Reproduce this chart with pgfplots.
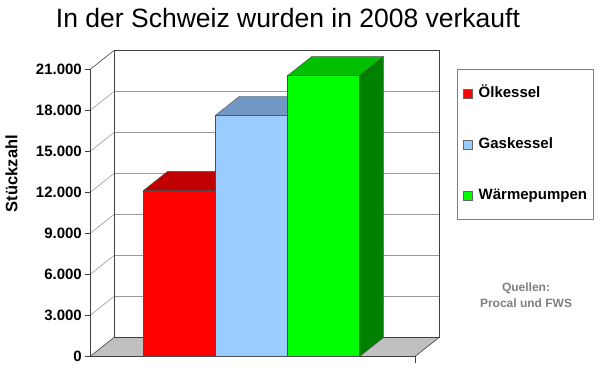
\documentclass[border=0pt]{standalone}
\usepackage{fontspec}
\setmainfont{Liberation Sans}
\usepackage{pgfplots}
\pgfplotsset{compat=1.18}
\definecolor{redF}{HTML}{FF0000}
\definecolor{redT}{HTML}{C00000}
\definecolor{blueF}{HTML}{99CCFF}
\definecolor{blueT}{HTML}{7098C2}
\definecolor{greenF}{HTML}{00FF00}
\definecolor{greenT}{HTML}{00C000}
\definecolor{greenS}{HTML}{008000}
\definecolor{floorG}{HTML}{C0C0C0}
\definecolor{gridG}{HTML}{9A9A9A}
\definecolor{edgeG}{HTML}{404040}
\definecolor{srcG}{HTML}{808080}
\begin{document}
\begin{tikzpicture}
\useasboundingbox (0,0) rectangle (600pt,372pt);
\fill[white] (0,0) rectangle (600pt,372pt);
\begin{axis}[
  name=c, at={(0,0)}, anchor=south west,
  scale only axis, width=600pt, height=372pt,
  xmin=0, xmax=600, ymin=-1134.15, ymax=26085.37,
  clip=false,
  axis line style={draw=none},
  xtick=\empty,
  ytick={0,3000,6000,9000,12000,15000,18000,21000},
  ytick pos=left,
  major tick length=0pt,
  tick style={draw=none},
  scaled y ticks=false,
  /pgf/number format/.cd, fixed, 1000 sep={.}, assume math mode=true,
  /pgfplots/.cd,
  yticklabel style={anchor=east, inner sep=0pt, xshift=82pt, font=\bfseries\fontsize{15}{18}\selectfont},
  legend image code/.code={\draw[#1] (0pt,-4.5pt) rectangle (9pt,4.5pt);},
  legend cell align=left,
  legend style={at={(0.76167,0.81452)}, anchor=north west, draw=srcG, line width=0.6pt,
    inner xsep=6pt, inner ysep=17pt, row sep=37pt,
    font=\bfseries\fontsize{15}{18}\selectfont,
    nodes={inner xsep=0pt, inner ysep=0pt, text height=11pt, text depth=3pt},
    /tikz/every odd column/.append style={column sep=6pt}},
]
% back wall
\fill[white] (axis cs:114,1390) rectangle (axis cs:439,22390);
\draw[gridG, line width=0.6pt] (axis cs:114,4390) -- (axis cs:439,4390);
\draw[gridG, line width=0.6pt] (axis cs:114,7390) -- (axis cs:439,7390);
\draw[gridG, line width=0.6pt] (axis cs:114,10390) -- (axis cs:439,10390);
\draw[gridG, line width=0.6pt] (axis cs:114,13390) -- (axis cs:439,13390);
\draw[gridG, line width=0.6pt] (axis cs:114,16390) -- (axis cs:439,16390);
\draw[gridG, line width=0.6pt] (axis cs:114,19390) -- (axis cs:439,19390);
% left wall diagonals
\draw[gridG, line width=0.6pt] (axis cs:90,3000) -- (axis cs:114,4390);
\draw[gridG, line width=0.6pt] (axis cs:90,6000) -- (axis cs:114,7390);
\draw[gridG, line width=0.6pt] (axis cs:90,9000) -- (axis cs:114,10390);
\draw[gridG, line width=0.6pt] (axis cs:90,12000) -- (axis cs:114,13390);
\draw[gridG, line width=0.6pt] (axis cs:90,15000) -- (axis cs:114,16390);
\draw[gridG, line width=0.6pt] (axis cs:90,18000) -- (axis cs:114,19390);
\draw[edgeG, line width=0.6pt] (axis cs:90,21000) -- (axis cs:114,22390);
% back wall border
\draw[edgeG, line width=0.7pt] (axis cs:114,1390) -- (axis cs:114,22390) -- (axis cs:439,22390) -- (axis cs:439,1390) -- cycle;
% floor
\filldraw[fill=floorG, draw=edgeG, line width=0.6pt] (axis cs:90,0) -- (axis cs:415,0) -- (axis cs:439,1390) -- (axis cs:114,1390) -- cycle;
% front axis and ticks
\draw[edgeG, line width=0.6pt] (axis cs:90,0) -- (axis cs:90,21000);
\draw[edgeG, line width=0.6pt] (axis cs:415,0) -- (axis cs:415,-440);
\draw[edgeG, line width=0.6pt] (axis cs:85,0) -- (axis cs:90,0);
\draw[edgeG, line width=0.6pt] (axis cs:85,3000) -- (axis cs:90,3000);
\draw[edgeG, line width=0.6pt] (axis cs:85,6000) -- (axis cs:90,6000);
\draw[edgeG, line width=0.6pt] (axis cs:85,9000) -- (axis cs:90,9000);
\draw[edgeG, line width=0.6pt] (axis cs:85,12000) -- (axis cs:90,12000);
\draw[edgeG, line width=0.6pt] (axis cs:85,15000) -- (axis cs:90,15000);
\draw[edgeG, line width=0.6pt] (axis cs:85,18000) -- (axis cs:90,18000);
\draw[edgeG, line width=0.6pt] (axis cs:85,21000) -- (axis cs:90,21000);
% Oelkessel
\addplot[forget plot, ybar, bar width=72, fill=redF, draw=black!70, line width=0.4pt] coordinates {(179.5,12150)};
\addplot[forget plot, fill=redT, draw=black!70, line width=0.4pt] coordinates {(143.5,12150) (215.5,12150) (239.5,13540) (167.5,13540)} -- cycle;
% Gaskessel
\addplot[forget plot, ybar, bar width=72, fill=blueF, draw=black!70, line width=0.4pt] coordinates {(251.5,17650)};
\addplot[forget plot, fill=blueT, draw=black!70, line width=0.4pt] coordinates {(215.5,17650) (287.5,17650) (311.5,19040) (239.5,19040)} -- cycle;
% Waermepumpen
\addplot[forget plot, fill=greenS, draw=black!70, line width=0.4pt] coordinates {(359.5,0) (383.5,1390) (383.5,21940) (359.5,20550)} -- cycle;
\addplot[forget plot, ybar, bar width=72, fill=greenF, draw=black!70, line width=0.4pt] coordinates {(323.5,20550)};
\addplot[forget plot, fill=greenT, draw=black!70, line width=0.4pt] coordinates {(287.5,20550) (359.5,20550) (383.5,21940) (311.5,21940)} -- cycle;
\addlegendimage{fill=redF, draw=black!60, line width=0.4pt}
\addlegendentry{Ölkessel}
\addlegendimage{fill=blueF, draw=black!60, line width=0.4pt}
\addlegendentry{Gaskessel}
\addlegendimage{fill=greenF, draw=black!60, line width=0.4pt}
\addlegendentry{Wärmepumpen}
\end{axis}
\node[anchor=base, font=\fontsize{26.5}{30}\selectfont] at (288pt,344pt) {In der Schweiz wurden in 2008 verkauft};
\node[rotate=90, font=\bfseries\fontsize{16.5}{20}\selectfont] at (11.5pt,198.5pt) {Stückzahl};
\node[text=srcG, font=\bfseries\fontsize{12}{14}\selectfont] at (526pt,84pt) {Quellen:};
\node[text=srcG, font=\bfseries\fontsize{12}{14}\selectfont] at (526pt,69pt) {Procal und FWS};
\end{tikzpicture}
\end{document}
